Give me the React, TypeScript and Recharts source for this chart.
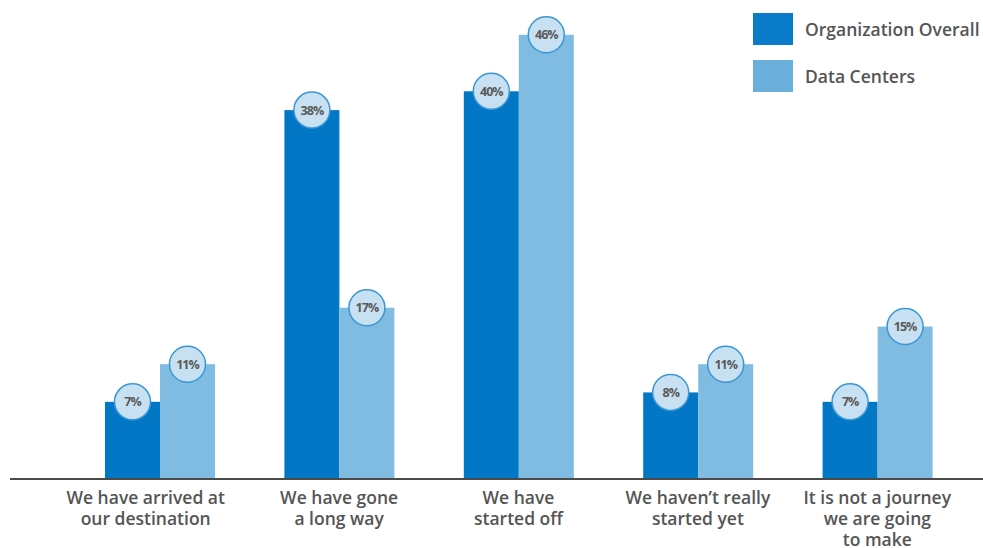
import { Bar, BarChart, LabelList, XAxis, YAxis } from "recharts";

const categories = [
  ["We have arrived at", "our destination"],
  ["We have gone", "a long way"],
  ["We have", "started off"],
  ["We haven\u2019t really", "started yet"],
  ["It is not a journey", "we are going", "to make"],
];
const organizationOverall = [7, 38, 40, 8, 7];
const dataCenters = [11, 17, 46, 11, 15];

const DARK = "#0277c5";
const LIGHT = "#80bce1";
const TEXT = "#555555";
const FONT = "'Open Sans', Lato, sans-serif";

const data = categories.map((lines, i) => ({
  name: lines.join(" "),
  org: organizationOverall[i],
  dc: dataCenters[i],
}));

const lineLookup: Record<string, string[]> = Object.fromEntries(
  categories.map((lines) => [lines.join(" "), lines])
);

function CategoryTick({ x, y, payload, index }: any) {
  const lines = lineLookup[payload.value] ?? [payload.value];
  // the first label sits a little left of its bars in the original
  const tx = index === 0 ? x - 14 : x;
  return (
    <text x={tx} y={y} textAnchor="middle" fill={TEXT} fontFamily={FONT} fontSize={17.5} fontWeight={600}>
      {lines.map((line, i) => (
        <tspan key={i} x={tx} dy={i === 0 ? 17 : 21}>
          {line}
        </tspan>
      ))}
    </text>
  );
}

// bars run down to the axis line rather than to the scale's zero
function FlatBar({ x, y, width, background, fill }: any) {
  const bottom = background ? background.y + background.height : y;
  return <rect x={x} y={y} width={width} height={Math.max(0, bottom - y)} fill={fill} />;
}

function Bubble({ x, y, width, value }: any) {
  const cx = x + width / 2;
  return (
    <g>
      <circle cx={cx} cy={y} r={18} fill="#c7e1f2" stroke="#3b97d4" strokeWidth={1.5} />
      <text
        x={cx}
        y={y + 4.5}
        textAnchor="middle"
        fill="#5a5a5a"
        fontFamily={FONT}
        fontSize={12.5}
        fontWeight={700}
        letterSpacing={-1}
      >
        {value}%
      </text>
    </g>
  );
}

function Legend() {
  const items = [
    { label: "Organization Overall", color: "#0a7bc8", top: 13 },
    { label: "Data Centers", color: "#6aaedb", top: 60 },
  ];
  return (
    <>
      {items.map((item) => (
        <div key={item.label}>
          <div
            style={{
              position: "absolute",
              left: 753,
              top: item.top,
              width: 40,
              height: 32,
              background: item.color,
            }}
          />
          <div
            style={{
              position: "absolute",
              left: 805,
              top: item.top + 4,
              lineHeight: "24px",
              fontSize: 17.5,
              fontWeight: 600,
              fontFamily: FONT,
              color: TEXT,
              whiteSpace: "nowrap",
            }}
          >
            {item.label}
          </div>
        </div>
      ))}
    </>
  );
}

export default function App() {
  return (
    <div
      style={{
        position: "fixed",
        left: 0,
        top: 0,
        width: 983,
        height: 548,
        overflow: "hidden",
        background: "#ffffff",
      }}
    >
      <BarChart
        width={983}
        height={548}
        data={data}
        margin={{ top: 16, right: 0, bottom: 0, left: 10 }}
        barGap={0}
        barSize={55}
      >
        <XAxis
          dataKey="name"
          interval={0}
          tickLine={false}
          axisLine={{ stroke: "#4a4a4a", strokeWidth: 2 }}
          padding={{ left: 60, right: 16 }}
          tick={<CategoryTick />}
          height={69}
        />
        <YAxis hide domain={[-1.2, 48]} />
        <Bar dataKey="org" fill={DARK} isAnimationActive={false} shape={<FlatBar />}>
          <LabelList dataKey="org" content={<Bubble />} />
        </Bar>
        <Bar dataKey="dc" fill={LIGHT} isAnimationActive={false} shape={<FlatBar />}>
          <LabelList dataKey="dc" content={<Bubble />} />
        </Bar>
      </BarChart>
      <Legend />
    </div>
  );
}
